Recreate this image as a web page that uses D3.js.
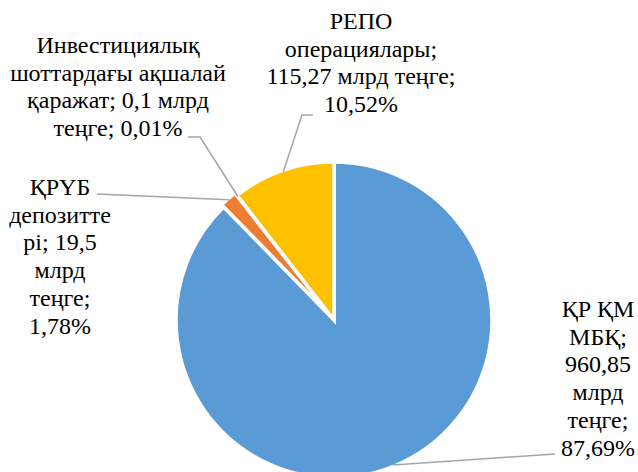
<!DOCTYPE html>
<html>
<head>
<meta charset="utf-8">
<script src="https://cdn.jsdelivr.net/npm/d3@7"></script>
</head>
<body style="margin:0">
<svg id="chart" width="638" height="472"></svg>
<script>
// data
var categories = ["ҚР ҚМ МБҚ", "ҚРҮБ депозиттері", "Инвестициялық шоттардағы ақшалай қаражат", "РЕПО операциялары"];
var values = [960.85, 19.5, 0.1, 115.27];
var percents = ["87,69%", "1,78%", "0,01%", "10,52%"];
var labelLines = [
  ["ҚР ҚМ", "МБҚ;", "960,85", "млрд", "теңге;", "87,69%"],
  ["ҚРҮБ", "депозитте", "рі; 19,5", "млрд", "теңге;", "1,78%"],
  ["Инвестициялық", "шоттардағы ақшалай", "қаражат; 0,1 млрд", "теңге; 0,01%"],
  ["РЕПО", "операциялары;", "115,27 млрд теңге;", "10,52%"]
];
var colors = ["#5B9BD5", "#ED7D31", "#A5A5A5", "#FFC000"];

// layout
var cx = 334, cy = 320, radius = 158;
var lineHeight = 27.7;
var fontStack = "Liberation Serif, Tinos, Times New Roman, serif";
var explode = [0, 3, 0, 0];
var labelPos = [
  {x: 598, y: 317},
  {x: 60, y: 195},
  {x: 118, y: 53},
  {x: 361, y: 29}
];
// elbow points of leader lines (from label side)
var leaderEnds = [
  [[555, 454]],
  [[97, 194]],
  [[188, 137], [200, 137]],
  [[313, 115], [302, 115]]
];

var data = categories.map(function(c, i) {
  return {name: c, value: values[i], pct: percents[i], lines: labelLines[i]};
});

var svg = d3.select("#chart");

var pie = d3.pie().sort(null).value(d => d.value);
var arcs = pie(data);

var arc = d3.arc().innerRadius(0).outerRadius(radius);

var g = svg.append("g").attr("transform", `translate(${cx}, ${cy})`);

g.selectAll("path")
  .data(arcs).enter()
  .append("path")
  .attr("d", arc)
  .attr("transform", function(d, i) {
    var a = (d.startAngle + d.endAngle) / 2;
    return `translate(${explode[i] * Math.sin(a)}, ${-explode[i] * Math.cos(a)})`;
  })
  .attr("fill", (d, i) => colors[i])
  .attr("stroke", "#fff")
  .attr("stroke-width", 3.5);

/* leader lines */
var r0 = radius - 1.5;
svg.append("g").selectAll("polyline")
  .data(arcs).enter()
  .append("polyline")
  .attr("points", function(d, i) {
    var a = (d.startAngle + d.endAngle) / 2;
    var p = [cx + (r0 + explode[i]) * Math.sin(a), cy - (r0 + explode[i]) * Math.cos(a)];
    var pts = [p].concat(leaderEnds[i].slice().reverse());
    return pts.map(q => q.join(",")).join(" ");
  })
  .attr("fill", "none")
  .attr("stroke", "#A6A6A6")
  .attr("stroke-width", 1.5);

/* labels, one text per line */
var labels = svg.append("g");
data.forEach(function(d, i) {
  labels.selectAll(null)
    .data(d.lines).enter()
    .append("text")
    .attr("text-anchor", "middle")
    .attr("x", labelPos[i].x)
    .attr("y", (l, j) => labelPos[i].y + j * lineHeight)
    .style("font-family", fontStack)
    .attr("font-size", 24)
    .attr("fill", "#000")
    .text(l => l);
});
</script>
</body>
</html>
